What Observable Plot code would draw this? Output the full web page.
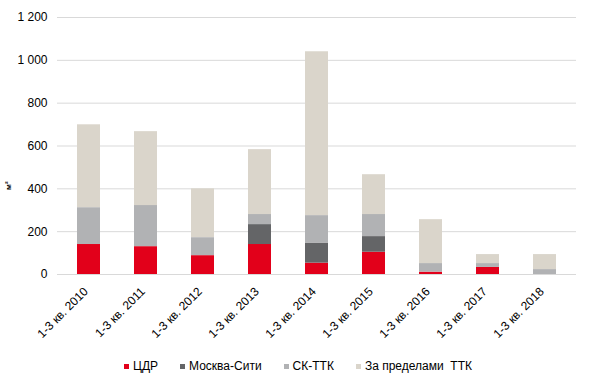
<!DOCTYPE html>
<html>
<head>
<meta charset="utf-8">
<script src="https://cdn.jsdelivr.net/npm/d3@7"></script>
<script src="https://cdn.jsdelivr.net/npm/@observablehq/plot@0.6"></script>
<style>
  html, body { margin: 0; padding: 0; background: #fff; }
  body { width: 590px; height: 380px; overflow: hidden; font-family: "Liberation Sans", Arial, sans-serif; }
  #legend { display: flex; justify-content: center; align-items: center; gap: 22px; height: 28px; font-size: 12px; color: #000; padding-left: 6px; }
  #legend .item { display: flex; align-items: center; gap: 4px; white-space: pre; }
  #legend .sw { width: 5px; height: 5px; display: inline-block; }
</style>
</head>
<body>
<div id="chart"></div>
<div id="legend"></div>
<script>
const categories = ["1-3 кв. 2010", "1-3 кв. 2011", "1-3 кв. 2012", "1-3 кв. 2013", "1-3 кв. 2014", "1-3 кв. 2015", "1-3 кв. 2016", "1-3 кв. 2017", "1-3 кв. 2018"];
const seriesNames = ["ЦДР", "Москва-Сити", "СК-ТТК", "За пределами  ТТК"];
const cdr     = [140, 130, 88, 140, 53, 104, 11, 33, 0];
const city    = [0, 0, 0, 93, 92, 73, 0, 0, 0];
const skttk   = [172, 192, 84, 47, 130, 103, 40, 18, 23];
const outside = [387, 345, 228, 303, 765, 186, 205, 42, 70];
const colors  = ["#e2001a", "#646567", "#b1b2b4", "#dad5cb"];
const yTicks  = [0, 200, 400, 600, 800, 1000, 1200];

const seriesValues = [cdr, city, skttk, outside];
const data = [];
seriesNames.forEach((s, si) => {
  categories.forEach((c, ci) => data.push({cat: c, series: s, value: seriesValues[si][ci]}));
});

const fmt = d => d >= 1000 ? d3.format(",")(d).replace(",", "\u00a0") : String(d);

const chart = Plot.plot({
  width: 590,
  height: 352,
  marginLeft: 57,
  marginRight: 14,
  marginTop: 17,
  marginBottom: 78,
  style: {fontFamily: "'Liberation Sans', Arial, sans-serif", fontSize: "12px", color: "#000", background: "#fff"},
  x: {domain: categories, paddingInner: 0.6, paddingOuter: 0.3, label: null},
  y: {domain: [0, 1200], label: null},
  color: {domain: seriesNames, range: colors},
  marks: [
    Plot.gridY(yTicks, {stroke: "#d9d9d9", strokeOpacity: 1, strokeWidth: 1}),
    Plot.barY(data, Plot.stackY({order: null}, {x: "cat", y: "value", z: "series", fill: "series"})),
    Plot.axisY(yTicks, {tickSize: 0, tickPadding: 10, tickFormat: fmt, label: null, fontSize: 12}),
    Plot.axisX({tickSize: 0, tickPadding: 6, tickRotate: -45, dx: -3, dy: 9, label: null, fontSize: 12}),
    Plot.text(["м²"], {frameAnchor: "left", dx: -49, dy: 44, rotate: -90, fontWeight: "bold", fontSize: 8, fill: "#000"})
  ]
});
document.getElementById("chart").appendChild(chart);

const legend = document.getElementById("legend");
seriesNames.forEach((s, i) => {
  const item = document.createElement("span");
  item.className = "item";
  const sw = document.createElement("span");
  sw.className = "sw";
  sw.style.background = colors[i];
  const t = document.createElement("span");
  t.textContent = s;
  item.appendChild(sw);
  item.appendChild(t);
  legend.appendChild(item);
});
</script>
</body>
</html>
